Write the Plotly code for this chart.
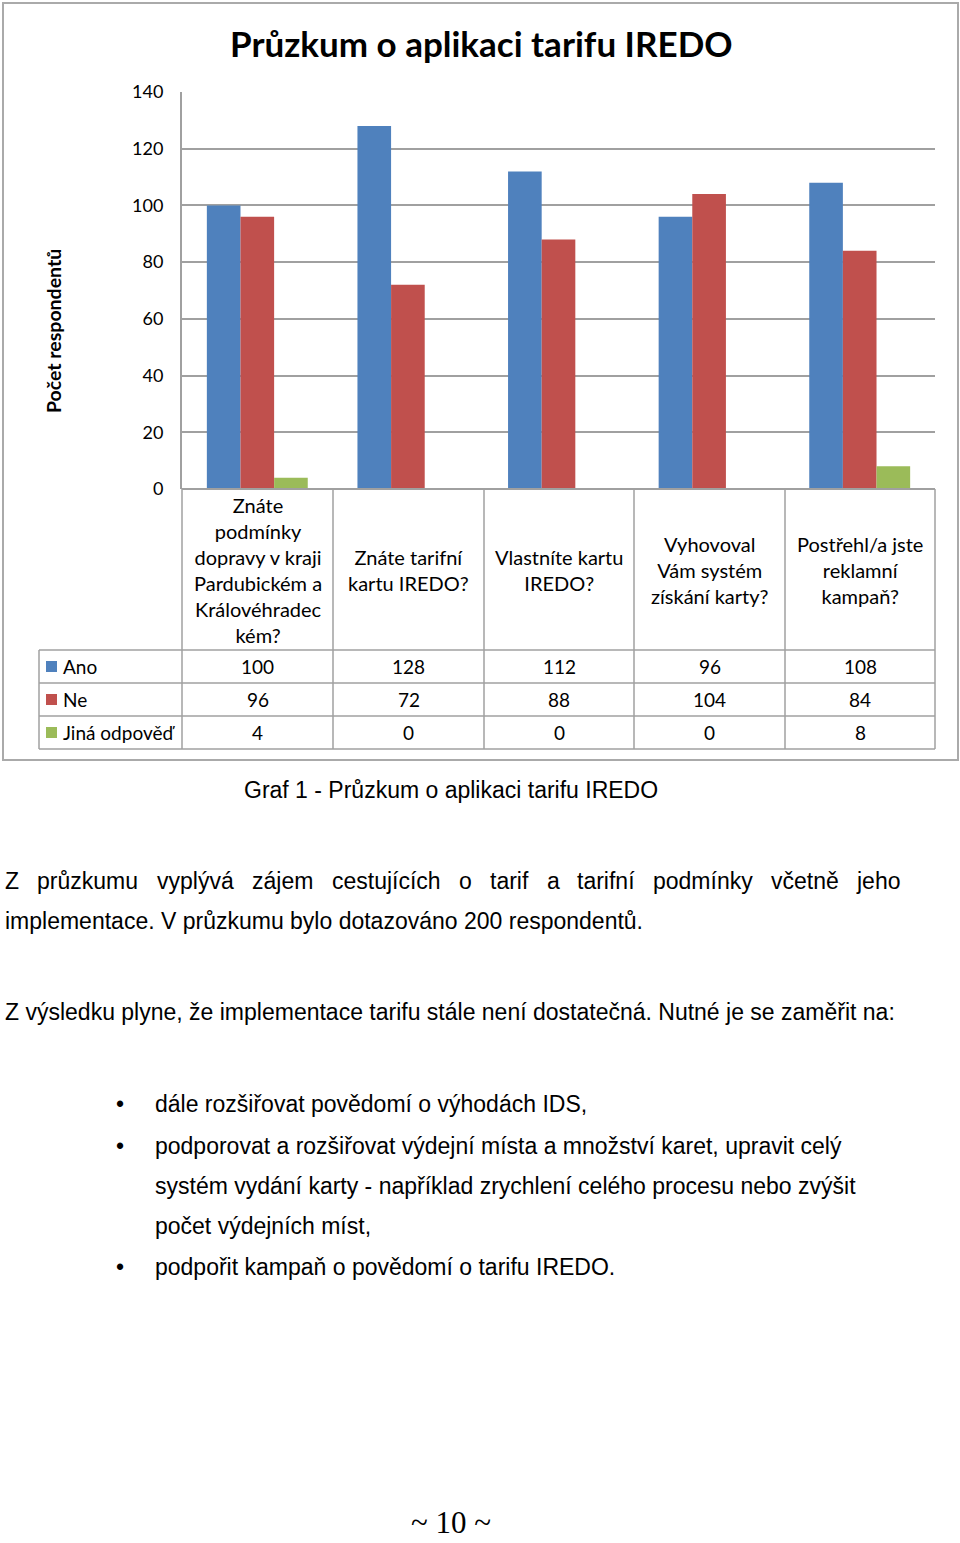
import plotly.graph_objects as go

categories = ["Znáte<br>podmínky<br>dopravy v kraji<br>Pardubickém a<br>Královéhradec<br>kém?",
              "Znáte tarifní<br>kartu IREDO?",
              "Vlastníte kartu<br>IREDO?",
              "Vyhovoval<br>Vám systém<br>získání karty?",
              "Postřehl/a jste<br>reklamní<br>kampaň?"]
series_names = ["Ano", "Ne", "Jiná odpověď"]
ano = [100, 128, 112, 96, 108]
ne = [96, 72, 88, 104, 84]
jina = [4, 0, 0, 0, 8]
y_ticks = [0, 20, 40, 60, 80, 100, 120, 140]
colors = ["#4F81BD", "#C0504D", "#9BBB59"]

W, H = 960, 1543
def py(p):  # pixel y -> paper
    return 1 - p / H
def px(p):
    return p / W

cat_keys = [f"c{i}" for i in range(len(categories))]
fig = go.Figure()
for name, vals, col in zip(series_names, [ano, ne, jina], colors):
    fig.add_trace(go.Bar(x=cat_keys, y=vals, name=name, marker=dict(color=col, line=dict(width=0)),
                         showlegend=False))

CF = "Lato"
x0, x1 = 182, 935
y_top, y_bot = 92, 489
fig.update_layout(
    width=W, height=H, margin=dict(l=0, r=0, t=0, b=0, pad=0, autoexpand=False),
    paper_bgcolor="white", plot_bgcolor="white",
    barmode="group", bargap=0.33, bargroupgap=0,
    xaxis=dict(domain=[px(x0), px(x1)], showticklabels=False, showgrid=False, zeroline=False,
               showline=False, fixedrange=True, automargin=False),
    yaxis=dict(domain=[py(y_bot), py(y_top)], range=[0, 140], tickvals=y_ticks,
               showgrid=True, gridcolor="#A0A0A0", gridwidth=1.5, zeroline=False,
               showline=True, linecolor="#A0A0A0", linewidth=2, automargin=False,
               ticks="", ticklabelstandoff=13, fixedrange=True,
               tickfont=dict(family=CF, size=18, color="#000")),
    font=dict(family=CF),
)

shapes = []
line_c = "#A0A0A0"
def hline(y, xa, xb, c=line_c, w=1.5):
    shapes.append(dict(type="line", xref="paper", yref="paper", x0=px(xa), x1=px(xb), y0=py(y), y1=py(y),
                       line=dict(color=c, width=w)))
def vline(x, ya, yb, c=line_c, w=1.5):
    shapes.append(dict(type="line", xref="paper", yref="paper", x0=px(x), x1=px(x), y0=py(ya), y1=py(yb),
                       line=dict(color=c, width=w)))

# outer chart frame
shapes.append(dict(type="rect", xref="paper", yref="paper", x0=px(3), x1=px(958), y0=py(760), y1=py(3),
                   line=dict(color="#AAAAAA", width=2)))
# data table
col_x = [182, 333, 484, 634, 785, 935]
row_y = [650, 683, 716, 749]
hline(489, 182, 935, w=2)
for y in row_y:
    hline(y, 39, 935)
for x in col_x:
    vline(x, 489, 749)
vline(39, 650, 749)

annotations = []
def txt(x, y, s, size=18, family=CF, color="#000", xanchor="center", yanchor="middle", bold=False,
        align="center", angle=0):
    if bold:
        s = f"<b>{s}</b>"
    annotations.append(dict(text=s, x=px(x), y=py(y), xref="paper", yref="paper", showarrow=False,
                            xanchor=xanchor, yanchor=yanchor, align=align, textangle=angle,
                            font=dict(family=family, size=size, color=color)))

txt(481, 43, "Průzkum o aplikaci tarifu IREDO", size=35, bold=True)
txt(53, 331, "Počet respondentů", size=19.5, bold=True, angle=-90)

# category headers
centers = [(col_x[i] + col_x[i + 1]) / 2 for i in range(5)]
for c, lab in zip(centers, categories):
    txt(c, 570, lab, size=20)
# rows
for r, (name, vals, col) in enumerate(zip(series_names, [ano, ne, jina], colors)):
    yc = (row_y[r] + row_y[r + 1]) / 2
    shapes.append(dict(type="rect", xref="paper", yref="paper", x0=px(46), x1=px(57),
                       y0=py(yc + 5.5), y1=py(yc - 5.5), fillcolor=col, line=dict(width=0)))
    txt(61, yc, name, size=19, xanchor="left")
    for c, v in zip(centers, vals):
        txt(c, yc, str(v), size=19)

# document text
DF = "Liberation Sans"
DS = 23
txt(451, 790, "Graf 1 - Průzkum o aplikaci tarifu IREDO", size=DS, family=DF)
words = ["Z", "průzkumu", "vyplývá", "zájem", "cestujících", "o", "tarif", "a", "tarifní", "podmínky", "včetně", "jeho"]
wx = [3, 35, 155, 250, 330, 457, 488, 545, 575, 651, 769, 854]
for w_, x_ in zip(words, wx):
    txt(x_, 881, w_, size=DS, family=DF, xanchor="left")
txt(3, 921, "implementace. V průzkumu bylo dotazováno 200 respondentů.", size=DS, family=DF, xanchor="left")
txt(3, 1012, "Z výsledku plyne, že implementace tarifu stále není dostatečná. Nutné je se zaměřit na:",
    size=DS, family=DF, xanchor="left")
bullets = [(1104, "dále rozšiřovat povědomí o výhodách IDS,", True),
           (1146, "podporovat a rozšiřovat výdejní místa a množství karet, upravit celý", True),
           (1186, "systém vydání karty - například zrychlení celého procesu nebo zvýšit", False),
           (1226, "počet výdejních míst,", False),
           (1267, "podpořit kampaň o povědomí o tarifu IREDO.", True)]
for y, s, b in bullets:
    if b:
        txt(120, y, "•", size=DS, family=DF)
    txt(153, y, s, size=DS, family=DF, xanchor="left")

txt(451, 1542, "~ 10 ~", size=31, family="Liberation Serif", yanchor="bottom")

fig.update_layout(shapes=shapes, annotations=annotations)
fig.write_html("out.html", config={"displayModeBar": False},
               post_script="document.body.style.margin='0';")
